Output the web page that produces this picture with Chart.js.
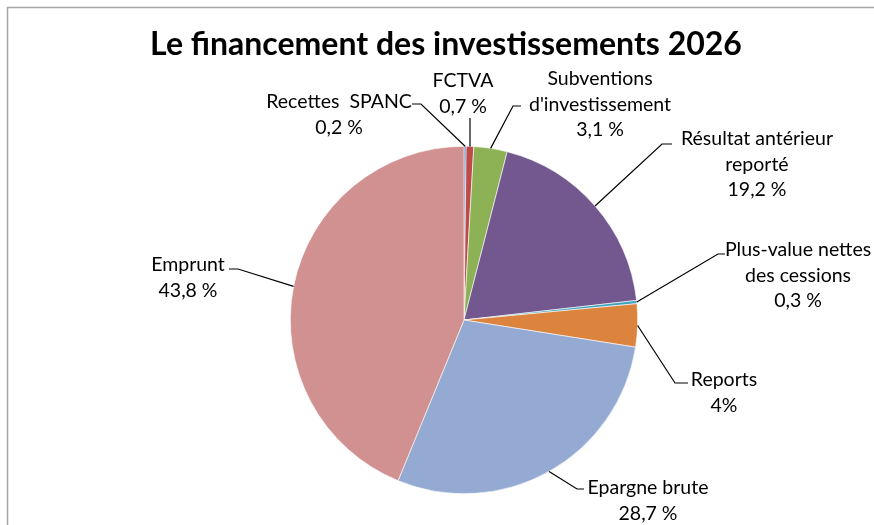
<!DOCTYPE html>
<html>
<head>
<meta charset="utf-8">
<script src="https://cdn.jsdelivr.net/npm/chart.js@4.4.1/dist/chart.umd.min.js"></script>
<style>
    html, body { margin: 0; padding: 0; background: #fff; }
    #wrap { width: 874px; height: 525px; position: relative; }
</style>
</head>
<body>
<div id="wrap"><canvas id="pieChart" width="874" height="525"></canvas></div>
<script>
// Data
const categories = [
    'Recettes SPANC',
    'FCTVA',
    "Subventions d'investissement",
    'Résultat antérieur reporté',
    'Plus-value nettes des cessions',
    'Reports',
    'Epargne brute',
    'Emprunt'
];
const shares = [0.2, 0.7, 3.1, 19.2, 0.3, 4, 28.7, 43.8];
const shareTexts = ['0,2 %', '0,7 %', '3,1 %', '19,2 %', '0,3 %', '4%', '28,7 %', '43,8 %'];
const labelLines = [
    ['Recettes  SPANC'],
    ['FCTVA'],
    ['Subventions', "d'investissement"],
    ['Résultat antérieur', 'reporté'],
    ['Plus-value nettes', 'des cessions'],
    ['Reports'],
    ['Epargne brute'],
    ['Emprunt']
];
const sliceColors = ['#4A7EBB', '#BE4B48', '#8DB255', '#72588F', '#41A2BE', '#DC843E', '#94AAD2', '#D29191'];

// label placement: text block centre x, first line y, and leader elbow / end
const labelLayout = [
    { x: 339, y: 102, ex: 421, ey: 104, hx: 412 },
    { x: 463, y: 81, ex: null, ey: 118, hx: null },
    { x: 600, y: 79, ex: 513, ey: 106, hx: 521 },
    { x: 757, y: 139, ex: 662, ey: 144, hx: 672 },
    { x: 798, y: 250, ex: 718, ey: 254, hx: 725 },
    { x: 724, y: 380, ex: 675, ey: 383, hx: 688 },
    { x: 648, y: 488, ex: 577, ey: 489, hx: 584 },
    { x: 188, y: 265, ex: 238, ey: 269, hx: 229 }
];

const frameAndLabels = {
    id: 'frameAndLabels',
    beforeDraw(chart) {
        const ctx = chart.ctx;
        ctx.save();
        ctx.fillStyle = '#fff';
        ctx.fillRect(0, 0, chart.width, chart.height);
        ctx.strokeStyle = '#A6A6A6';
        ctx.lineWidth = 1.5;
        ctx.beginPath();
        ctx.moveTo(7.5, chart.height);
        ctx.lineTo(7.5, 7.5);
        ctx.lineTo(chart.width, 7.5);
        ctx.stroke();

        // title
        ctx.fillStyle = '#000';
        ctx.font = 'bold 32px Lato';
        ctx.textAlign = 'center';
        ctx.textBaseline = 'middle';
        ctx.fillText('Le financement des investissements 2026', 446, 45);
        ctx.restore();
    },
    afterDatasetsDraw(chart) {
        const ctx = chart.ctx;
        const arcs = chart.getDatasetMeta(0).data;
        ctx.save();
        ctx.strokeStyle = '#000';
        ctx.lineWidth = 1.2;
        ctx.fillStyle = '#000';
        ctx.font = '19.5px Lato';
        ctx.textAlign = 'center';
        ctx.textBaseline = 'middle';
        arcs.forEach((arc, i) => {
            const p = arc.getProps(['x', 'y', 'startAngle', 'endAngle', 'outerRadius'], true);
            const mid = (p.startAngle + p.endAngle) / 2;
            const px = p.x + Math.cos(mid) * p.outerRadius;
            const py = p.y + Math.sin(mid) * p.outerRadius;
            const lay = labelLayout[i];
            ctx.beginPath();
            if (lay.ex === null) {
                ctx.moveTo(px, lay.ey);
                ctx.lineTo(px, py);
            } else {
                ctx.moveTo(lay.hx, lay.ey);
                ctx.lineTo(lay.ex, lay.ey);
                ctx.lineTo(px, py);
            }
            ctx.stroke();

            const lines = labelLines[i].concat([shareTexts[i]]);
            lines.forEach((t, k) => {
                ctx.fillText(t, lay.x, lay.y + k * 25.5);
            });
        });
        ctx.restore();
    }
};

new Chart(document.getElementById('pieChart'), {
    type: 'pie',
    data: {
        labels: categories,
        datasets: [{
            data: shares,
            backgroundColor: sliceColors,
            borderColor: '#FFFFFF',
            borderWidth: 0.6
        }]
    },
    options: {
        responsive: false,
        animation: false,
        layout: { padding: { top: 146, bottom: 31, left: 290, right: 236 } },
        plugins: {
            legend: { display: false },
            title: { display: false },
            tooltip: { enabled: false }
        }
    },
    plugins: [frameAndLabels]
});
</script>
</body>
</html>
